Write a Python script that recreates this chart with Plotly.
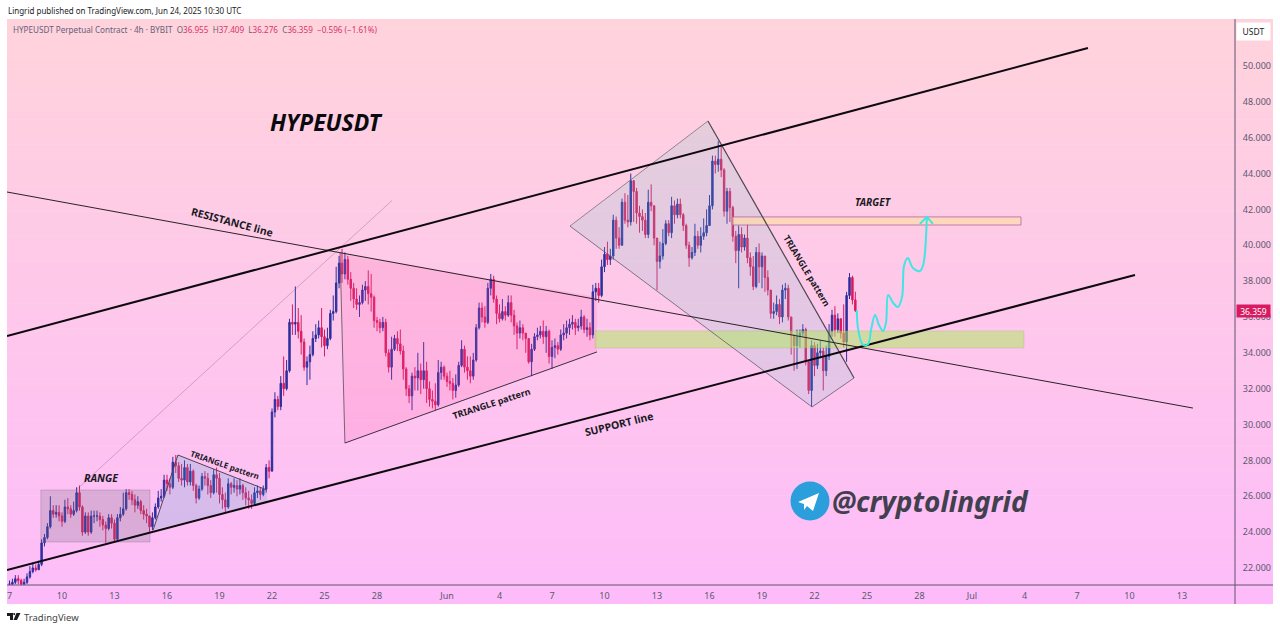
#!/usr/bin/env python3
"""HYPEUSDT 4h chart with trend lines, patterns and target zones."""

import pandas as pd
import plotly.graph_objects as go

START = "2025-05-07 00:00"

# one row per day, six 4h candles
closes = [
    21.1, 21.2, 21.4, 21.3, 21.1, 21.2,  # May 7
    21.5, 21.8, 22.0, 21.9, 22.2, 23.4,
    23.7, 24.3, 25.2, 25.0, 25.1, 24.9,
    24.6, 25.4, 25.3, 25.0, 25.2, 26.2,  # May 10
    25.4, 24.0, 24.9, 24.0, 24.9, 24.9,
    24.9, 24.7, 24.4, 24.2, 24.8, 24.5,
    23.6, 24.8, 25.0, 25.3, 26.2, 26.1,  # May 13
    25.8, 25.5, 25.7, 25.2, 25.0, 24.9,
    24.3, 24.8, 25.4, 25.9, 26.0, 26.9,
    26.7, 26.5, 27.9, 27.7, 27.0, 26.9,  # May 16
    27.6, 26.8, 27.4, 26.6, 25.9, 26.4,
    27.1, 27.0, 26.6, 26.2, 27.2, 27.0,
    26.1, 25.8, 25.4, 26.7, 26.5, 26.6,  # May 19
    26.4, 26.6, 26.2, 25.9, 25.8, 25.6,
    26.2, 26.3, 26.1, 26.4, 27.6, 27.4,
    30.7, 31.4, 31.0, 32.3, 32.0, 33.0,  # May 22
    35.7, 35.6, 35.7, 35.2, 34.6, 33.2,
    33.5, 33.9, 34.8, 35.0, 35.4, 34.9,
    34.4, 34.8, 36.2, 36.3, 37.9, 39.0,  # May 25
    38.4, 39.2, 38.1, 37.6, 37.0, 36.7,
    36.8, 37.5, 37.7, 37.3, 37.1, 35.8,
    35.7, 35.4, 35.7, 34.0, 33.2, 34.2,  # May 28
    34.8, 34.5, 34.1, 33.1, 32.0, 31.6,
    32.7, 32.6, 33.0, 32.5, 33.0, 32.0,
    31.4, 31.3, 31.1, 32.9, 33.2, 32.7,
    32.4, 32.3, 31.9, 32.2, 33.3, 34.2,  # Jun 1
    33.2, 33.0, 32.7, 33.6, 35.4, 36.5,
    36.0, 35.7, 37.6, 38.1, 37.0, 36.2,
    35.9, 36.3, 36.1, 36.8, 36.1, 35.5,  # Jun 4
    35.1, 35.4, 35.1, 34.8, 33.5, 34.2,
    34.9, 35.0, 35.2, 34.9, 35.2, 33.8,
    34.3, 34.4, 34.2, 35.0, 35.1, 35.4,  # Jun 7
    35.6, 35.7, 35.4, 35.5, 36.0, 35.3,
    35.4, 35.0, 37.4, 37.6, 37.2, 38.8,
    39.5, 39.2, 39.4, 41.4, 40.4, 40.0,  # Jun 10
    42.4, 41.4, 41.3, 43.6, 43.0, 41.8,
    41.6, 41.4, 40.6, 42.4, 42.2, 40.4,
    39.1, 39.4, 40.1, 41.2, 40.7, 42.2,  # Jun 13
    41.7, 42.3, 41.7, 41.1, 40.0, 39.3,
    39.6, 40.5, 40.0, 40.5, 40.7, 41.1,
    42.2, 44.7, 44.5, 44.8, 44.2, 41.9,  # Jun 16
    43.0, 42.1, 40.5, 39.7, 40.6, 39.9,
    40.4, 39.3, 38.8, 37.7, 39.6, 38.8,
    39.4, 38.2, 37.5, 36.2, 36.3, 36.7,  # Jun 19
    36.0, 37.5, 37.6, 36.0, 35.0, 34.4,
    34.9, 35.1, 35.3, 33.5, 31.9, 34.4,
    33.3, 34.0, 34.1, 33.0, 33.8, 35.2,  # Jun 22
    36.1, 35.3, 35.9, 35.1, 34.6, 37.2,
    38.2, 36.955, 36.359,
]

highs = [
    21.3, 21.4, 21.6, 21.6, 21.4, 21.4,
    21.7, 22.1, 22.3, 22.2, 22.4, 23.6,
    23.9, 24.5, 26.0, 25.5, 25.5, 25.5,
    25.1, 25.8, 25.9, 25.5, 25.7, 26.5,
    26.6, 25.5, 25.1, 25.1, 25.2, 25.2,
    25.2, 25.1, 24.9, 24.6, 25.0, 25.0,
    24.7, 25.0, 25.4, 26.2, 26.4, 26.4,
    26.3, 26.1, 26.0, 25.8, 25.5, 25.3,
    24.9, 25.1, 25.6, 26.3, 26.4, 27.2,
    27.2, 27.0, 28.2, 28.3, 27.9, 27.8,
    28.0, 27.8, 27.8, 27.5, 26.7, 26.6,
    27.3, 27.4, 27.3, 26.9, 27.5, 27.6,
    27.3, 26.5, 26.2, 27.0, 26.8, 27.0,
    26.9, 27.0, 26.7, 26.5, 26.3, 26.1,
    26.5, 26.6, 26.5, 26.6, 27.8, 28.0,
    30.9, 31.8, 31.6, 32.7, 33.8, 33.6,
    35.9, 36.7, 37.7, 36.5, 36.1, 34.8,
    33.8, 34.4, 35.2, 35.6, 35.8, 36.5,
    35.3, 35.4, 36.4, 37.2, 38.8, 39.4,
    39.8, 39.6, 39.4, 38.5, 37.9, 37.6,
    37.2, 37.8, 38.0, 38.6, 38.4, 37.2,
    36.0, 35.9, 36.0, 35.9, 34.2, 34.9,
    35.0, 35.2, 35.3, 34.4, 33.2, 32.2,
    32.9, 33.2, 34.0, 33.4, 34.6, 33.5,
    32.4, 31.9, 32.3, 33.6, 33.5, 33.3,
    32.9, 33.0, 32.6, 32.8, 33.5, 34.7,
    34.4, 33.8, 33.8, 34.0, 35.6, 36.8,
    36.8, 36.6, 37.9, 38.4, 38.3, 37.2,
    36.7, 37.0, 36.6, 37.2, 37.2, 36.4,
    35.7, 35.8, 35.6, 35.1, 34.8, 34.5,
    35.1, 35.4, 35.5, 35.8, 35.5, 35.3,
    34.7, 34.8, 34.6, 35.3, 35.6, 35.8,
    35.9, 36.1, 35.9, 35.9, 36.4, 36.1,
    35.9, 35.7, 37.8, 37.9, 37.9, 39.2,
    39.9, 40.2, 39.8, 41.7, 41.6, 41.0,
    42.6, 42.9, 42.8, 44.0, 43.5, 43.2,
    42.2, 42.0, 41.8, 43.1, 43.4, 41.9,
    40.4, 40.2, 40.9, 41.4, 41.4, 42.7,
    42.5, 42.6, 42.6, 41.8, 41.2, 40.2,
    39.9, 41.2, 40.8, 41.0, 41.5, 42.0,
    42.8, 45.0, 45.0, 45.8, 45.6, 44.3,
    43.2, 43.2, 42.2, 40.8, 41.1, 41.0,
    40.6, 41.2, 39.6, 39.4, 39.9, 40.1,
    39.6, 39.0, 38.6, 37.2, 36.8, 37.2,
    37.0, 37.8, 37.9, 37.8, 36.0, 35.0,
    35.3, 35.3, 35.6, 35.4, 33.6, 34.7,
    34.6, 34.5, 34.7, 34.3, 34.4, 35.6,
    36.4, 36.6, 36.2, 35.7, 36.7, 37.4,
    38.45, 38.3, 37.409,
]

lows = [
    20.9, 21.0, 21.1, 21.1, 21.0, 21.0,
    21.1, 21.4, 21.7, 21.8, 21.9, 22.1,
    23.2, 23.6, 24.2, 24.8, 24.8, 24.6,
    24.3, 24.5, 25.0, 24.8, 24.9, 25.1,
    25.2, 23.8, 23.9, 23.8, 23.9, 24.5,
    24.6, 24.3, 24.1, 23.4, 24.1, 24.2,
    23.5, 23.5, 24.6, 24.9, 25.2, 25.8,
    25.5, 25.1, 25.3, 25.0, 24.7, 24.5,
    24.0, 24.1, 24.7, 25.3, 25.7, 25.9,
    26.3, 26.1, 26.4, 27.3, 26.8, 26.6,
    26.5, 26.6, 26.6, 26.3, 25.6, 25.8,
    26.3, 26.6, 26.1, 25.9, 26.1, 26.2,
    25.6, 25.3, 25.1, 25.3, 26.1, 26.2,
    26.0, 26.1, 25.8, 25.5, 25.3, 25.3,
    25.5, 25.9, 25.8, 26.0, 26.2, 27.0,
    28.3, 30.4, 30.8, 30.8, 31.6, 31.9,
    32.9, 35.0, 35.0, 34.8, 33.9, 33.0,
    32.2, 32.5, 33.8, 34.6, 34.8, 34.3,
    33.8, 34.2, 34.7, 35.8, 36.2, 37.6,
    37.9, 38.1, 37.8, 36.9, 36.5, 36.4,
    36.0, 36.7, 36.9, 36.7, 36.3, 35.4,
    35.2, 35.1, 35.2, 33.8, 32.9, 32.5,
    34.1, 34.1, 33.9, 32.5, 31.6, 31.2,
    30.8, 31.9, 31.9, 31.7, 32.0, 31.2,
    31.0, 30.9, 30.8, 31.0, 32.5, 32.5,
    32.1, 31.9, 31.4, 31.5, 32.1, 33.2,
    32.9, 32.5, 32.3, 32.5, 33.5, 35.3,
    35.7, 35.4, 35.6, 37.2, 36.8, 35.6,
    35.7, 35.8, 35.8, 36.0, 35.7, 35.0,
    34.2, 34.8, 34.7, 34.0, 33.4, 32.7,
    34.1, 34.7, 34.8, 34.5, 34.0, 33.4,
    33.1, 33.7, 33.9, 34.1, 34.7, 34.8,
    35.0, 35.3, 35.0, 35.2, 35.3, 35.1,
    34.9, 34.7, 34.8, 36.9, 36.8, 37.1,
    38.5, 38.9, 38.9, 39.2, 39.8, 39.8,
    40.4, 41.2, 41.0, 41.1, 41.3, 41.2,
    40.7, 40.8, 40.4, 40.4, 41.9, 40.0,
    37.5, 38.7, 39.2, 40.0, 40.5, 40.4,
    41.2, 41.5, 41.5, 40.8, 39.8, 38.8,
    39.2, 39.4, 39.8, 39.6, 40.3, 40.5,
    41.5, 42.0, 44.0, 44.1, 43.8, 41.6,
    41.2, 41.3, 40.2, 39.0, 37.6, 39.6,
    39.7, 39.0, 38.3, 37.5, 37.6, 37.9,
    37.6, 37.4, 37.2, 35.9, 35.9, 36.1,
    35.6, 35.7, 37.0, 35.8, 33.9, 33.0,
    33.1, 34.3, 34.9, 33.3, 31.7, 31.0,
    32.7, 33.1, 33.7, 31.9, 32.7, 33.6,
    34.9, 34.9, 35.1, 34.8, 34.3, 33.5,
    37.0, 36.7, 36.276,
]

price_ticks = [22, 24, 26, 28, 30, 32, 34, 36, 38, 40, 42, 44, 46, 48, 50]
date_ticks = ["2025-05-07", "2025-05-10", "2025-05-13", "2025-05-16", "2025-05-19",
              "2025-05-22", "2025-05-25", "2025-05-28", "2025-06-01", "2025-06-04",
              "2025-06-07", "2025-06-10", "2025-06-13", "2025-06-16", "2025-06-19",
              "2025-06-22", "2025-06-25", "2025-06-28", "2025-07-01", "2025-07-04",
              "2025-07-07", "2025-07-10", "2025-07-13"]
date_labels = ["7", "10", "13", "16", "19", "22", "25", "28", "Jun", "4", "7", "10", "13",
               "16", "19", "22", "25", "28", "Jul", "4", "7", "10", "13"]

# drawings on the chart
channel_x = ["2025-05-06 20:34", "2025-07-07 15:00"]
channel_y = [34.94, 51.0]
support_x = ["2025-05-06 20:34", "2025-07-10 07:30"]
support_y = [21.89, 38.34]
resistance_x = ["2025-05-06 20:34", "2025-07-13 15:00"]
resistance_y = [42.97, 30.92]
fib_x = ["2025-05-10 20:40", "2025-05-28 20:40"]
fib_y = [26.4, 42.5]

range_x = ["2025-05-08 19:00", "2025-05-15 00:40", "2025-05-15 00:40", "2025-05-08 19:00"]
range_y = [26.35, 26.35, 23.45, 23.45]
tri1_x = ["2025-05-15 05:00", "2025-05-16 15:00", "2025-05-21 17:00", "2025-05-21 17:00"]
tri1_y = [24.12, 28.3, 26.35, 25.68]
tri2_x = ["2025-05-25 21:20", "2025-06-09 13:40", "2025-06-09 13:40", "2025-05-26 04:00"]
tri2_y = [39.57, 37.11, 34.05, 28.97]
tri3_x = ["2025-06-08 00:40", "2025-06-15 21:50", "2025-06-24 06:15", "2025-06-21 20:40"]
tri3_y = [41.07, 46.93, 32.6, 30.98]
target_x = ["2025-06-17 07:00", "2025-07-03 19:10", "2025-07-03 19:10", "2025-06-17 07:00"]
target_y = [41.58, 41.58, 41.13, 41.13]
zone_x = ["2025-06-09 11:00", "2025-07-03 23:15", "2025-07-03 23:15", "2025-06-09 11:00"]
zone_y = [35.22, 35.22, 34.27, 34.27]

path_x = ["2025-06-24 10:00", "2025-06-24 12:00", "2025-06-24 18:30", "2025-06-25 01:30",
          "2025-06-25 05:30", "2025-06-25 11:00", "2025-06-25 16:30", "2025-06-25 22:00",
          "2025-06-26 02:00", "2025-06-26 05:00", "2025-06-26 12:00", "2025-06-26 18:30",
          "2025-06-27 00:00", "2025-06-27 03:00", "2025-06-27 08:00", "2025-06-27 15:00",
          "2025-06-28 00:30", "2025-06-28 05:00", "2025-06-28 10:00"]
path_y = [36.39, 35.27, 34.44, 34.49, 35.27, 36.11, 35.55, 35.22, 35.66, 37.23, 36.78,
          36.56, 37.11, 38.9, 39.29, 38.73, 38.56, 38.9, 41.52]
head_x = ["2025-06-28 00:30", "2025-06-28 10:00", "2025-06-28 18:30"]
head_y = [41.19, 41.58, 41.19]

UP = "#2e2f9e"
DOWN = "#d81b60"
TEXT = "#1a1a24"
AXIS = "#5d5570"
FONT = "Noto Sans"
W, H = 1280, 629
LEFT, RIGHT, TOP, BOTTOM = 7, 1235, 19, 585


def px(x):
    return (x - LEFT) / (RIGHT - LEFT)


def py(y):
    return (BOTTOM - y) / (BOTTOM - TOP)


def pixel_path(points):
    return "M " + " L ".join(f"{px(x):.5f},{py(y):.5f}" for x, y in points) + " Z"


def label(x, y, text, size=10, color=TEXT, angle=0, anchor="center", **kwargs):
    return dict(xref="paper", yref="paper", x=px(x), y=py(y), text=text, showarrow=False,
                font=dict(family=FONT, size=size, color=color), textangle=angle,
                xanchor=anchor, yanchor="middle", borderpad=0, **kwargs)


opens = [closes[0]] + closes[:-1]
times = pd.date_range(START, periods=len(closes), freq="4h")

fig = go.Figure()


def add_poly(xs, ys, fill, edge="rgba(0,0,0,0)", width=1):
    fig.add_trace(go.Scatter(x=xs + xs[:1], y=ys + ys[:1], mode="lines", fill="toself",
                             fillcolor=fill, line=dict(color=edge, width=width),
                             hoverinfo="skip", showlegend=False))


def add_line(xs, ys, color, width, shape="linear"):
    fig.add_trace(go.Scatter(x=xs, y=ys, mode="lines", hoverinfo="skip", showlegend=False,
                             line=dict(color=color, width=width, shape=shape)))


fig.add_trace(go.Candlestick(
    x=times, open=opens, high=highs, low=lows, close=closes,
    increasing=dict(line=dict(color=UP, width=1), fillcolor=UP),
    decreasing=dict(line=dict(color=DOWN, width=1), fillcolor=DOWN),
    showlegend=False,
))

add_poly(range_x, range_y, "rgba(120,110,130,0.25)", "rgba(120,100,130,0.3)")
add_poly(tri1_x, tri1_y, "rgba(60,170,200,0.2)")
add_poly(tri2_x, tri2_y, "rgba(255,80,160,0.16)")
add_poly(tri3_x, tri3_y, "rgba(110,200,200,0.18)")
add_poly(zone_x, zone_y, "rgba(170,235,90,0.5)", "rgba(150,170,110,0.25)")
add_poly(target_x, target_y, "rgba(253,220,170,0.7)", "#b066a4", 0.8)

add_line(fib_x, fib_y, "rgba(130,90,120,0.45)", 0.8)
add_line(tri1_x[:3], tri1_y[:3], "#4d4458", 1)
add_line(tri2_x[-1:] + tri2_x[:1], tri2_y[-1:] + tri2_y[:1], "rgba(70,60,70,0.7)", 1)
add_line(tri2_x[2:], tri2_y[2:], "#3b3040", 1)
add_line(tri3_x[1:3], tri3_y[1:3], "#4b4650", 1.2)
add_line(tri3_x[:2], tri3_y[:2], "rgba(110,100,110,0.7)", 1)
add_line(tri3_x[2:] + tri3_x[:1], tri3_y[2:] + tri3_y[:1], "rgba(90,85,100,0.75)", 1)
add_line(resistance_x, resistance_y, "#2a2228", 1)
add_line(channel_x, channel_y, "#0d0a0f", 2)
add_line(support_x, support_y, "#0d0a0f", 2)
add_line(path_x, path_y, "#3fe6e4", 2, shape="spline")
add_line(head_x, head_y, "#3fe6e4", 2)

# vertical pink gradient behind the chart, running under both axes
BANDS = 70
TOP_RGB, BOTTOM_RGB = (255, 211, 220), (253, 188, 249)
shapes = []
for i in range(BANDS):
    t = i / (BANDS - 1)
    rgb = [round(a + (b - a) * t) for a, b in zip(TOP_RGB, BOTTOM_RGB)]
    y0 = TOP + (604 - TOP) * i / BANDS
    y1 = TOP + (604 - TOP) * (i + 1) / BANDS + 0.5
    shapes.append(dict(type="rect", xref="paper", yref="paper", layer="below",
                       x0=px(LEFT), x1=px(1273), y0=py(y0), y1=py(min(y1, 604)),
                       fillcolor=f"rgb({rgb[0]},{rgb[1]},{rgb[2]})", line=dict(width=0)))

# axis lines run a bit past the crossing, telegram badge and tradingview logo
shapes += [
    dict(type="line", xref="paper", yref="paper", x0=px(RIGHT), x1=px(RIGHT), y0=py(TOP), y1=py(604),
         line=dict(color=AXIS, width=1)),
    dict(type="line", xref="paper", yref="paper", x0=px(LEFT), x1=px(1273), y0=py(BOTTOM), y1=py(BOTTOM),
         line=dict(color=AXIS, width=1)),
    dict(type="circle", xref="paper", yref="paper", x0=px(790.5), x1=px(829.5), y0=py(520.5), y1=py(481.5),
         fillcolor="#2b9fdb", line=dict(width=0)),
    dict(type="path", xref="paper", yref="paper", fillcolor="white", line=dict(width=0),
         path=pixel_path([(798, 502), (819, 493), (813, 511), (807, 506), (804, 510), (804, 504)])),
    dict(type="path", xref="paper", yref="paper", fillcolor="#1b1b1f", line=dict(width=0),
         path=pixel_path([(7, 613), (13, 613), (13, 620), (10, 620), (10, 616), (7, 616)])),
    dict(type="path", xref="paper", yref="paper", fillcolor="#1b1b1f", line=dict(width=0),
         path=pixel_path([(16.5, 613), (20.5, 613), (17, 620), (13.5, 620)])),
    dict(type="circle", xref="paper", yref="paper", x0=px(13.2), x1=px(15.2), y0=py(615.2), y1=py(613),
         fillcolor="#1b1b1f", line=dict(width=0)),
]

ohlc = "#d6336c"
legend = ("HYPEUSDT Perpetual Contract · 4h · BYBIT&nbsp;&nbsp;"
          f"O<span style='color:{ohlc}'>36.955</span>&nbsp;&nbsp;"
          f"H<span style='color:{ohlc}'>37.409</span>&nbsp;&nbsp;"
          f"L<span style='color:{ohlc}'>36.276</span>&nbsp;&nbsp;"
          f"C<span style='color:{ohlc}'>36.359</span>&nbsp;&nbsp;"
          f"<span style='color:{ohlc}'>−0.596 (−1.61%)</span>")

annotations = [
    label(7, 10, "Lingrid published on TradingView.com, Jun 24, 2025 10:30 UTC", size=8, anchor="left"),
    label(12, 29, legend, size=8.15, color="#66607a", anchor="left"),
    label(326, 122, "<b><i>HYPEUSDT</i></b>", size=23, color="#0a0a0f"),
    label(232, 222, "<b>RESISTANCE line</b>", size=10.5, angle=15),
    label(101, 478, "<b><i>RANGE</i></b>", size=10.5),
    label(225, 464, "<b>TRIANGLE pattern</b>", size=8, angle=19),
    label(491, 404, "<b>TRIANGLE pattern</b>", size=9, angle=-18),
    label(619, 424, "<b>SUPPORT line</b>", size=10.5, angle=-14),
    label(807, 270, "<b>TRIANGLE pattern</b>", size=9, angle=59),
    label(873, 202, "<b><i>TARGET</i></b>", size=10),
    label(930, 501, "<b><i>@cryptolingrid</i></b>", size=28, color="#41404e"),
    label(1254, 311, "36.359", size=8.5, color="white", bgcolor="#d81b60", width=33, height=12),
    label(1254, 31, "USDT", size=8.5, bgcolor="white", width=33, height=17),
    label(23, 617, "TradingView", size=9.5, color="#3f3f46", anchor="left"),
]

fig.update_layout(
    width=W,
    height=H,
    margin=dict(l=LEFT, r=W - RIGHT, t=TOP, b=H - BOTTOM),
    paper_bgcolor="white",
    plot_bgcolor="rgba(0,0,0,0)",
    font=dict(family=FONT, size=9, color="#5b5870"),
    showlegend=False,
    shapes=shapes,
    annotations=annotations,
    xaxis=dict(
        type="date",
        range=["2025-05-06 20:34", "2025-07-16 00:40"],
        rangeslider=dict(visible=False),
        showgrid=False,
        zeroline=False,
        tickmode="array",
        tickvals=date_ticks,
        ticktext=date_labels,
        ticks="outside",
        ticklen=2,
        tickcolor="rgba(0,0,0,0)",
        tickangle=0,
    ),
    yaxis=dict(
        side="right",
        range=[21.05, 52.62],
        showgrid=False,
        zeroline=False,
        tickmode="array",
        tickvals=price_ticks,
        tickformat=".3f",
        ticks="outside",
        ticklen=5,
        tickcolor="rgba(0,0,0,0)",
    ),
)

fig.write_html("out.html", config=dict(displayModeBar=False),
               post_script="document.body.style.margin='0';document.documentElement.style.overflow='hidden';")
